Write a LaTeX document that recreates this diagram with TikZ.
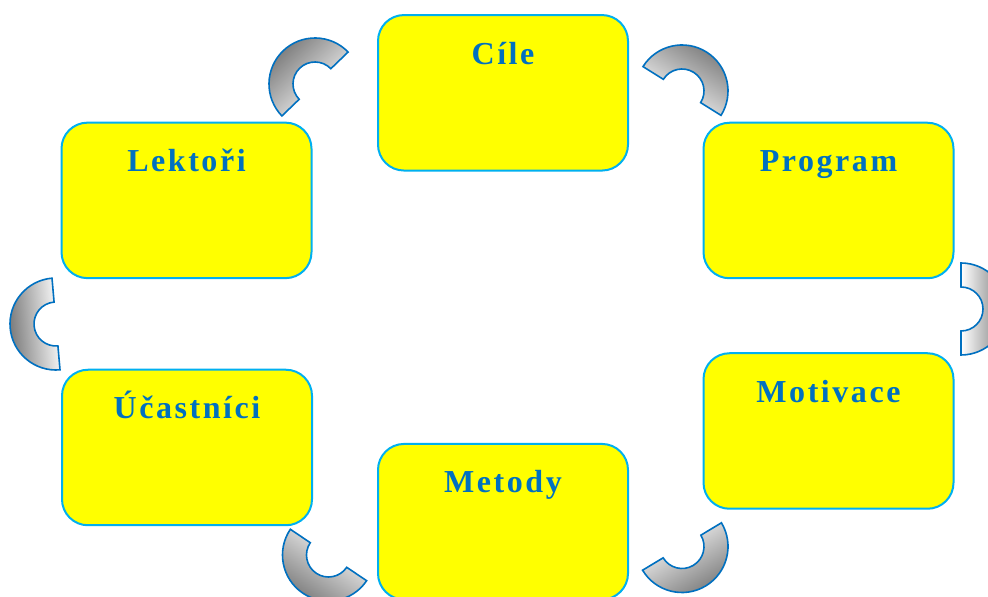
\documentclass[tikz,border=0pt]{standalone}
\usepackage{fontspec}
\newfontfamily\headfont[LetterSpace=8]{Liberation Serif}
\usetikzlibrary{positioning}
\definecolor{boxyellow}{RGB}{255,255,0}
\definecolor{boxline}{RGB}{0,176,240}
\definecolor{headblue}{RGB}{0,112,192}
\definecolor{arcline}{RGB}{0,112,192}
\definecolor{arcdark}{RGB}{115,115,115}

% half ring between two boxes: #1 centre, #2 direction of the open side
\newcommand{\halfring}[2]{%
  \pgfmathsetmacro{\ringshade}{#2+90}
  \draw [arcpiece, shading angle=\ringshade] (#1) ++(#2+90:46pt)
    arc [start angle=#2+90, end angle=#2+270, radius=46pt]
    -- ++(#2+90:24pt)
    arc [start angle=#2+270, end angle=#2+90, radius=22pt] -- cycle;
}

\begin{document}
\begin{tikzpicture}[
    x=1pt, y=1pt,
    block/.style={rectangle, draw=boxline, line width=2pt, fill=boxyellow, rounded corners=26pt,
      minimum width=250pt, inner sep=0pt, text height=49pt, text depth=106.5pt,
      text=headblue, font=\headfont\bfseries\fontsize{32}{38}\selectfont},
    arcpiece/.style={draw=arcline, line width=1.6pt, top color=arcdark, bottom color=white}
]
\useasboundingbox (0,0) rectangle (988,597);

% Define nodes round the cycle
\node [block] (cile) at (503,504.2) {Cíle};
\node [block] (program) at (828.5,396.5) {Program};
\node [block] (motivace) at (828.5,166) {Motivace};
\node [block] (metody) at (503,75.3) {Metody};
\node [block] (ucastnici) at (187,149.5) {Účastníci};
\node [block] (lektori) at (186.5,396.6) {Lektoři};

% Centres of the half rings
\coordinate (r1) at (682,506);
\coordinate (r2) at (961,288);
\coordinate (r3) at (682,50.5);
\coordinate (r4) at (328.5,42);
\coordinate (r5) at (56,273);
\coordinate (r6) at (315,513);

% Draw half rings
\halfring{r1}{238}
\halfring{r2}{180}
\halfring{r3}{121}
\halfring{r4}{56}
\halfring{r5}{5}
\halfring{r6}{314}

\end{tikzpicture}
\end{document}
